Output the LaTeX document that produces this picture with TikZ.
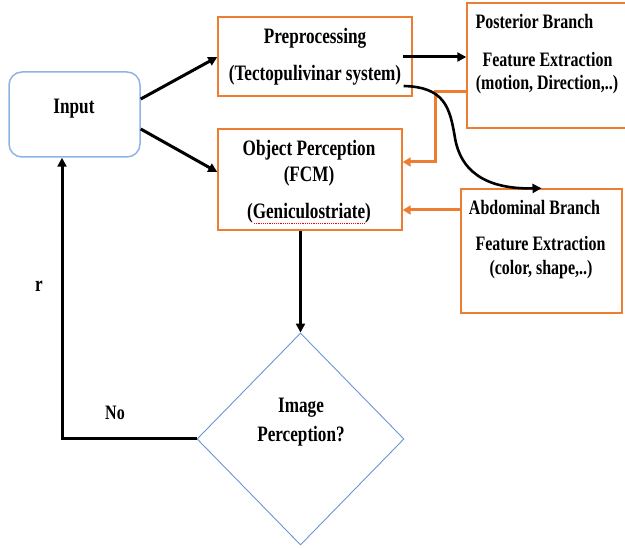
\documentclass[tikz,border=0pt]{standalone}
\usepackage{fontspec}
\setmainfont{Liberation Serif}
\usepackage{graphicx}
\usetikzlibrary{arrows.meta,shapes.geometric,calc}
\definecolor{orng}{HTML}{ED7D31}
\definecolor{lblue}{HTML}{8DB4E2}
\definecolor{dblue}{HTML}{6A95D6}
\newcommand\sx[1]{\scalebox{0.78}[1]{#1}}
\tikzset{
  obox/.style={draw=orng, line width=1.4pt, rectangle, inner sep=0},
  inbox/.style={draw=lblue, line width=1.5pt, rounded corners=13pt, inner sep=0},
  dec/.style={draw=dblue, line width=0.9pt, diamond, inner sep=0},
  txt/.style={inner sep=0, font=\fontsize{22}{26}\selectfont\bfseries},
  stxt/.style={inner sep=0, font=\fontsize{20.5}{24}\selectfont\bfseries},
  arr/.style={draw=black, line width=3pt, -{Triangle[length=9pt,width=9pt]}},
  oarr/.style={draw=orng, line width=3pt, -{Triangle[length=8pt,width=9pt]}},
}
\begin{document}
\begin{tikzpicture}[x=1pt,y=-1pt]
\useasboundingbox (0,0) rectangle (625,548);
\clip (0,0) rectangle (625,548);
% boxes
\node[inbox, minimum width=131pt, minimum height=85pt] (in) at (74.5,114.5) {};
\node[obox, minimum width=194pt, minimum height=79pt] (pre) at (315,56.5) {};
\node[obox, minimum width=184pt, minimum height=101pt] (obj) at (310,179.5) {};
\node[obox, minimum width=160pt, minimum height=125pt] (post) at (547,65.5) {};
\node[obox, minimum width=161pt, minimum height=124pt] (abd) at (541.5,251) {};
\node[dec, minimum width=207pt, minimum height=212pt] (d) at (300.5,439) {};
% texts
\node[txt] (tin) at (74,109) {\sx{Input}};
\node[txt] (tpre1) at (315,38) {\sx{Preprocessing}};
\node[txt] (tpre2) at (315,75) {\sx{(Tectopulivinar system)}};
\node[txt] (tobj1) at (309,150) {\sx{Object Perception}};
\node[txt] (tobj2) at (309,176) {\sx{(FCM)}};
\node[txt] (tobj3) at (309,213) {\sx{(Geniculostriate)}};
\node[stxt] (tpost1) at (534.5,21) {\sx{Posterior Branch}};
\node[stxt] (tpost2) at (547.5,60) {\sx{Feature Extraction}};
\node[stxt] (tpost3) at (547,85) {\sx{(motion, Direction,..)}};
\node[stxt] (tabd1) at (534.5,207) {\sx{Abdominal Branch}};
\node[stxt] (tabd2) at (540.5,244) {\sx{Feature Extraction}};
\node[stxt] (tabd3) at (541,270) {\sx{(color, shape,..)}};
\node[txt] (timg1) at (301,408) {\sx{Image}};
\node[txt] (timg2) at (301,436) {\sx{Perception?}};
\node[txt] (tr) at (39,286) {\sx{r}};
\node[stxt] (tno) at (115,413) {\sx{No}};
% spell-check underline
\draw[red, line width=1pt, dash pattern=on 1.2pt off 1pt] (254,223.5) -- (365,223.5);
% connectors
\draw[arr] ([yshift=15.5pt]in.east) -- ([yshift=-0.5pt]pre.west);
\draw[arr] ([yshift=-14.5pt]in.east) -- ([yshift=7.5pt]obj.west);
\coordinate (ps) at ([xshift=-10pt,yshift=-0.5pt]pre.east);
\draw[arr] (ps) -- (post.west |- ps);
\coordinate (o1) at ([yshift=-26.5pt]post.west);
\coordinate (o2) at (435,92);
\coordinate (o3) at (435,162);
\draw[oarr] (o1) -- (o2) -- (o3) -- (obj.east |- o3);
\coordinate (a1) at ([yshift=41pt]abd.west);
\draw[oarr] (a1) -- (obj.east |- a1);
\coordinate (cs) at ([xshift=-9pt,yshift=-29.5pt]pre.east);
\draw[draw=black, line width=2.6pt, -{Triangle[length=9pt,width=9pt]}] (cs) .. controls (445,87) and (450,108) .. (455,138) .. controls (462,178) and (495,189) .. (abd.north);
\draw[arr] (obj.south -| d.north) -- (d.north);
\coordinate (l1) at (62,439);
\draw[arr] (d.west) -- (l1) -- (in.south -| l1);
\end{tikzpicture}
\end{document}
